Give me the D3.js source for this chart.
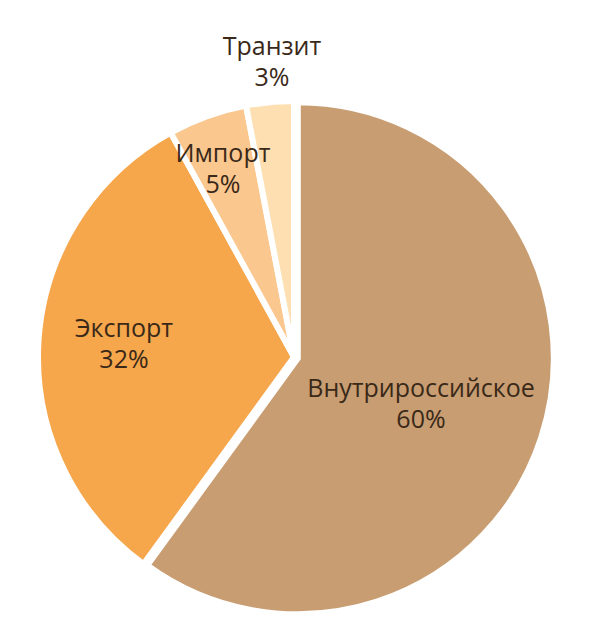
<!DOCTYPE html>
<html>
<head>
<meta charset="utf-8">
<script src="https://cdn.jsdelivr.net/npm/d3@7"></script>
<style>
  html, body { margin: 0; padding: 0; background: #fff; }
  svg { display: block; }
</style>
</head>
<body>
<svg id="chart"></svg>
<script>
// --- Data ---
const categories = ["Внутрироссийское", "Экспорт", "Импорт", "Транзит"];
const shares = [60, 32, 5, 3];
const colors = ["#C89D72", "#F6A64B", "#FAC78F", "#FDDFB1"];

const width = 597;
const height = 640;
const cx = 294, cy = 357;
const radius = 256;

// label anchors (centre of text block) per slice
const labelPos = [[421, 397], [124, 337], [223, 162], [272, 55]];

const svg = d3.select("#chart")
  .attr("width", width)
  .attr("height", height);

const data = categories.map((c, i) => ({ name: c, value: shares[i], color: colors[i] }));

const pie = d3.pie()
  .value(d => d.value)
  .sort(null);

const arc = d3.arc()
  .innerRadius(0)
  .outerRadius(radius);

const g = svg.append("g").attr("transform", `translate(${cx},${cy})`);

const arcs = pie(data);

g.selectAll("path")
  .data(arcs)
  .join("path")
  .attr("d", arc)
  .attr("fill", d => d.data.color)
  .attr("stroke", "#fff")
  .attr("stroke-width", 6)
  .attr("stroke-linejoin", "miter")
  .attr("transform", (d, i) => {
    // the big slice is pulled out a little
    if (i !== 0) return null;
    const mid = (d.startAngle + d.endAngle) / 2;
    const off = 4;
    return `translate(${off * Math.sin(mid)},${-off * Math.cos(mid)})`;
  });

// --- Labels ---
const labels = svg.selectAll("text.lbl")
  .data(arcs)
  .join("text")
  .attr("class", "lbl")
  .attr("text-anchor", "middle")
  .attr("font-family", "'Open Sans', sans-serif")
  .attr("font-size", 25)
  .attr("fill", "#3a2918");

labels.append("tspan")
  .attr("x", (d, i) => labelPos[i][0])
  .attr("y", (d, i) => labelPos[i][1])
  .text(d => d.data.name);

labels.append("tspan")
  .attr("x", (d, i) => labelPos[i][0])
  .attr("y", (d, i) => labelPos[i][1] + 31)
  .text(d => d.data.value + "%");
</script>
</body>
</html>
